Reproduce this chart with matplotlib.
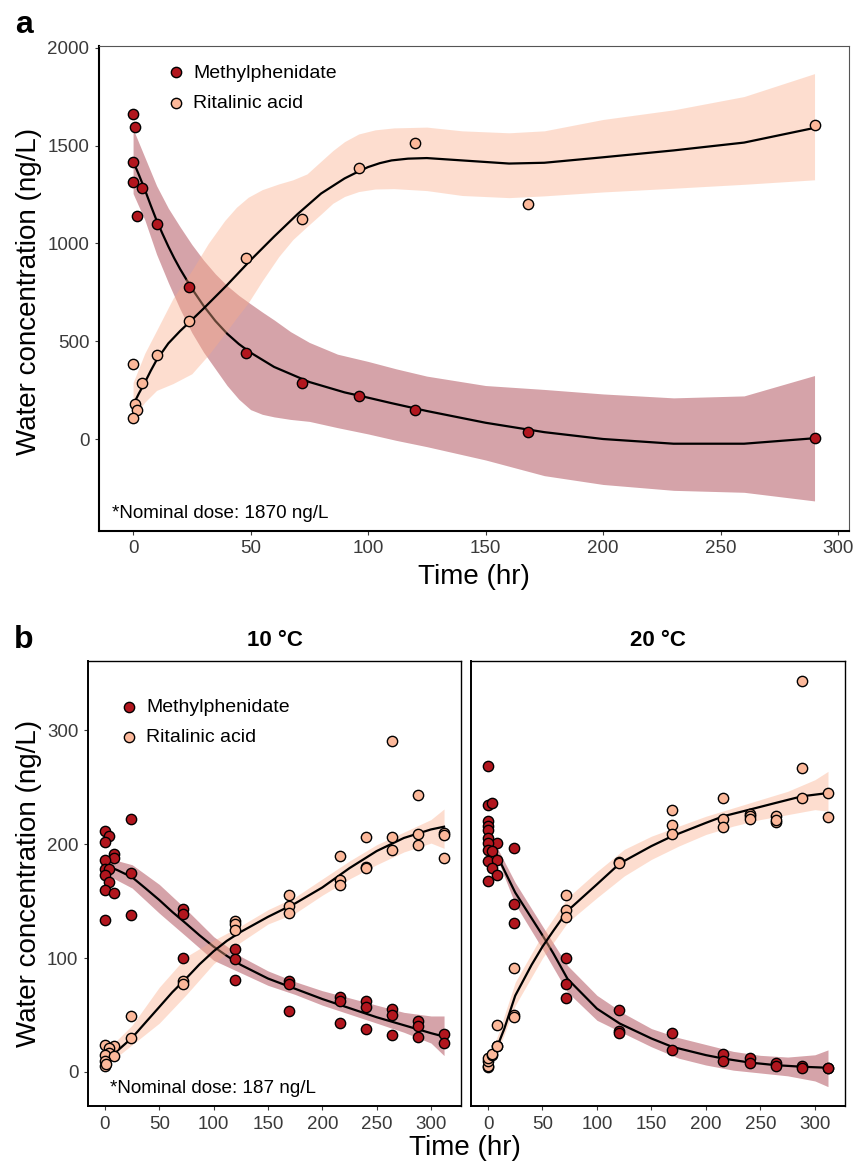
import matplotlib
matplotlib.use("Agg")
import matplotlib.pyplot as plt

plt.rcParams['font.family'] = ['Liberation Sans', 'DejaVu Sans']

# colours
mph_col = '#B2161E'
ra_col = '#FCB89A'
mph_band = '#981929'
ra_band = '#FAAC89'
labels = ['Methylphenidate', 'Ritalinic acid']

# ---- panel a : measured points ----
a_mph_t = [0.1, 0.85, 0, 0, 4, 1.6, 10, 24, 48, 72, 96, 120, 168, 290]
a_mph_v = [1660, 1594, 1415, 1316, 1282, 1139, 1100, 777, 440, 289, 221, 150, 37, 8]
a_ra_t = [0, 10, 4, 0.85, 1.6, 0, 24, 48, 72, 96, 120, 168, 290]
a_ra_v = [386, 430, 289, 182, 151, 109, 604, 927, 1124, 1384, 1514, 1203, 1606]

# panel a : smooth fits and confidence bands
a_mph_fit_t = [0, 2.5, 5, 7.5, 10, 12.5, 15, 17.5, 20, 25, 30, 35, 40, 45, 50, 60, 75, 90,
               100, 110, 125, 150, 175, 200, 230, 260, 290]
a_mph_fit = [1420, 1350, 1275, 1195, 1118, 1050, 985, 925, 870, 770, 682, 605, 540, 487, 443,
             370, 293, 240, 213, 185, 145, 85, 37, 2, -22, -22, 6]
a_mph_band_t = [0, 5, 10, 15, 20, 25, 30, 35, 40, 45, 50, 55, 60, 67, 75, 87, 100, 112, 125,
                150, 175, 200, 230, 260, 290]
a_mph_hi = [1585, 1440, 1295, 1180, 1085, 995, 915, 845, 785, 735, 692, 650, 610, 550, 495,
            435, 398, 360, 323, 275, 255, 232, 212, 222, 326]
a_mph_lo = [1255, 1120, 945, 800, 665, 545, 445, 360, 275, 205, 152, 128, 115, 102, 92, 60,
            28, -5, -37, -105, -185, -230, -260, -270, -314]

a_ra_fit_t = [0, 2.5, 5, 7.5, 10, 15, 20, 25, 30, 35, 40, 50, 60, 70, 80, 90, 95, 100, 105,
              110, 117, 125, 140, 160, 175, 200, 230, 260, 290]
a_ra_fit = [175, 235, 290, 350, 405, 490, 553, 610, 668, 728, 788, 915, 1035, 1150, 1255,
            1332, 1362, 1390, 1410, 1424, 1433, 1436, 1424, 1408, 1412, 1440, 1475, 1515, 1590]
a_ra_band_t = [0, 5, 10, 17, 25, 32, 39, 44, 49, 55, 62, 68, 74, 80, 85, 90, 96, 103, 111,
               125, 140, 160, 175, 200, 230, 260, 290]
a_ra_hi = [290, 440, 556, 720, 862, 1000, 1117, 1185, 1236, 1275, 1304, 1325, 1355, 1420,
           1474, 1520, 1559, 1580, 1590, 1594, 1575, 1565, 1575, 1633, 1682, 1750, 1867]
a_ra_lo = [110, 190, 250, 285, 335, 430, 539, 620, 697, 810, 933, 1020, 1086, 1150, 1205,
           1240, 1265, 1278, 1280, 1270, 1245, 1234, 1243, 1263, 1282, 1302, 1325]

# ---- panel b : 10 C ----
b10_mph_t = [0, 4, 0, 8, 8, 0, 0, 4, 0, 4, 0, 8, 0, 24, 24, 24, 72, 72, 72, 120, 120, 120,
             169, 169, 169, 216, 216, 216, 240, 240, 240, 264, 264, 264, 288, 288, 288, 312, 312]
b10_mph_v = [212, 207, 202, 191, 188, 186, 178, 178, 173, 167, 160, 157, 133, 222, 175, 138,
             143.5, 139, 100, 108, 99, 81, 80, 77, 53.5, 66, 62, 43, 62.5, 57, 38, 55, 50, 32.5,
             45, 40, 31, 33, 25.5]
b10_ra_t = [0, 8, 4, 4, 0, 8, 0, 0, 1, 24, 24, 72, 72, 120, 120, 120, 169, 169, 169,
            216, 216, 216, 240, 240, 240, 264, 264, 264, 288, 288, 288, 312, 312, 312]
b10_ra_v = [23.7, 22.3, 21, 16.4, 15, 13.5, 9.5, 5, 7, 49.5, 29.5, 80, 77, 132.5, 129.5, 125,
            155, 146, 139.5, 190, 169, 164.5, 206, 180, 179, 291, 206, 194.5, 243.5, 209, 199,
            210, 208, 188]

b10_fit_t = [0, 12, 25, 37, 50, 62, 75, 87, 100, 112, 125, 150, 175, 200, 225, 250, 275, 300, 312]
b10_mph_fit = [182, 177, 171, 161.5, 151, 140.5, 130, 120, 110, 102, 94, 82, 73, 64, 56, 48, 41, 34, 31]
b10_ra_fit = [9.5, 19, 30, 43, 57, 70, 82.4, 94.5, 106, 115, 123, 136.2, 148, 162, 179, 194, 205.5, 213, 215.4]
b10_band_t = [0, 25, 50, 75, 100, 125, 150, 175, 200, 225, 250, 275, 300, 312]
b10_mph_hi = [188.5, 182, 164.7, 142.5, 118.8, 101.4, 88.7, 79.2, 71.3, 65, 58.6, 52.3, 49.1, 49.1]
b10_mph_lo = [174, 161.5, 139.4, 118.8, 98, 87, 76, 68, 58.6, 50.7, 42.8, 34.8, 25.3, 14.3]
b10_ra_hi = [17.4, 41, 74.4, 101.4, 115.6, 128.3, 142.5, 153.6, 169.5, 185.3, 199.6, 210.6, 221.7, 231]
b10_ra_lo = [4.8, 23.8, 42.8, 68, 95, 114, 129.9, 139.4, 155.2, 169.5, 182, 193.2, 201, 196.4]

# ---- panel b : 20 C ----
b20_mph_t = [0, 0, 4, 0, 0, 0, 0, 8, 0, 0, 4, 0, 8, 4, 8, 0, 24, 24, 24, 72, 72, 72,
             120, 120, 120, 169, 169, 216, 216, 240, 240, 264, 264, 288, 288, 312, 312]
b20_mph_v = [269, 234.8, 236.3, 220.3, 215.9, 212.9, 205.6, 201.2, 201.2, 195.3, 193.8, 184.9,
             186.4, 179.1, 173.4, 167.4, 197, 147.3, 130.4, 99.8, 76.8, 64.8, 54, 35.7, 34,
             34.5, 19, 15.5, 9.7, 11.8, 7.4, 7.4, 5.4, 5.4, 3.6, 3.6, 3]
b20_ra_t = [0, 0, 0, 0, 4, 4, 8, 8, 8, 24, 24, 24, 72, 72, 72, 120, 120, 169, 169, 169,
            216, 216, 216, 240, 240, 240, 264, 264, 264, 288, 288, 288, 312, 312]
b20_ra_v = [4, 5, 9.5, 12, 15, 16, 22.5, 23, 41, 91, 49.7, 48.2, 155.5, 142.4, 135.7, 184.7,
            183.2, 230.4, 216.7, 209.2, 240.7, 222.3, 215.3, 227, 224.6, 222.3, 224.6, 219.4,
            221.5, 343.6, 266.9, 240.7, 245, 224]

b20_fit_t = [0, 4, 8, 15, 25, 40, 50, 60, 73, 100, 121, 150, 169, 200, 216, 240, 264, 288, 312]
b20_mph_fit = [205, 199, 191, 177, 157.5, 135, 120, 104, 81.7, 55.5, 42.4, 29.3, 22, 14.7, 11.7, 8.2, 5.9, 4.5, 3.6]
b20_ra_fit = [6, 13, 21, 38, 67, 94, 110, 124, 141.5, 164.8, 183.2, 198.4, 207.1, 218.8, 224.6, 230.4, 236.3, 242.1, 245]
b20_band_t = [0, 10, 25, 50, 73, 100, 125, 150, 175, 200, 225, 250, 275, 300, 312]
b20_mph_hi = [212, 194, 166.3, 128, 93.4, 67.2, 51.1, 38, 30, 24, 18, 14.5, 13, 15, 19.3]
b20_mph_lo = [198, 183.8, 147.3, 108, 70, 45.3, 33.6, 22, 12, 6, 1.5, -1, -3.5, -8, -13]
b20_ra_hi = [10, 35, 78.8, 121, 153, 176, 195.5, 207.1, 215.9, 224.6, 231.9, 239.2, 246.5, 256.7, 264]
b20_ra_lo = [2, 20.5, 58.4, 100, 131.3, 153, 172.1, 186.7, 198.4, 208.6, 215.9, 221.7, 226, 230.4, 229]


def draw_panel(ax, pts, fits, bands):
    # bands: (t, lo, hi) per compound, fits: (t, y) per compound
    (mt, mlo, mhi), (rt, rlo, rhi) = bands
    (mft, mf), (rft, rf) = fits
    ax.fill_between(mt, mlo, mhi, color=mph_band, alpha=0.4, lw=0, zorder=1)
    ax.plot(mft, mf, color='black', lw=1.6, zorder=2)
    ax.fill_between(rt, rlo, rhi, color=ra_band, alpha=0.4, lw=0, zorder=2)
    ax.plot(rft, rf, color='black', lw=1.6, zorder=2)
    (mx, my), (rx, ry) = pts
    ax.scatter(mx, my, s=55, c=mph_col, edgecolors='black', linewidths=1.0,
               zorder=3, label=labels[0])
    ax.scatter(rx, ry, s=55, c=ra_col, edgecolors='black', linewidths=1.0,
               zorder=3, label=labels[1])
    ax.set_xticks([0, 50, 100, 150, 200, 250, 300])
    ax.tick_params(labelsize=13.5, colors='#3a3a3a', length=3, width=0.8, pad=4)
    for sp in ax.spines.values():
        sp.set_color('black')
        sp.set_linewidth(1.0)


fig = plt.figure(figsize=(8.56, 11.65), dpi=100)
W, H = 856, 1165

# ---- panel a ----
ax_a = fig.add_axes([99 / W, 1 - 530.7 / H, 749.6 / W, 484.7 / H])
draw_panel(ax_a, ((a_mph_t, a_mph_v), (a_ra_t, a_ra_v)),
           ((a_mph_fit_t, a_mph_fit), (a_ra_fit_t, a_ra_fit)),
           ((a_mph_band_t, a_mph_lo, a_mph_hi), (a_ra_band_t, a_ra_lo, a_ra_hi)))
ax_a.set_xlim(-14.5, 304.5)
ax_a.set_ylim(-466, 2008)
ax_a.set_yticks([0, 500, 1000, 1500, 2000])
ax_a.spines['left'].set_linewidth(1.5)
ax_a.spines['bottom'].set_linewidth(1.5)
ax_a.spines['top'].set_color('#555555')
ax_a.spines['right'].set_color('#555555')
ax_a.spines['top'].set_linewidth(0.8)
ax_a.spines['right'].set_linewidth(0.8)
ax_a.legend(loc='upper left', bbox_to_anchor=(0.09, 0.963), frameon=False, fontsize=14,
            handlelength=1.0, handletextpad=0.38, labelspacing=0.66, borderpad=0,
            borderaxespad=0, scatterpoints=1)
ax_a.text(0.017, 0.036, '*Nominal dose: 1870 ng/L', transform=ax_a.transAxes,
          fontsize=13.6, va='center', ha='left', color='black')
fig.text(473.8 / W, 1 - 577 / H, 'Time (hr)', fontsize=20, ha='center', va='center')
fig.text(29 / W, 1 - 291 / H, 'Water concentration (ng/L)', fontsize=20,
         rotation=90, ha='center', va='center')
fig.text(24 / W, 1 - 25 / H, 'a', fontsize=23, fontweight='bold', ha='center', va='center')

# ---- panel b ----
ax_b1 = fig.add_axes([88 / W, 1 - 1106 / H, 373 / W, 445 / H])
ax_b2 = fig.add_axes([471 / W, 1 - 1106 / H, 374 / W, 445 / H])
draw_panel(ax_b1, ((b10_mph_t, b10_mph_v), (b10_ra_t, b10_ra_v)),
           ((b10_fit_t, b10_mph_fit), (b10_fit_t, b10_ra_fit)),
           ((b10_band_t, b10_mph_lo, b10_mph_hi), (b10_band_t, b10_ra_lo, b10_ra_hi)))
draw_panel(ax_b2, ((b20_mph_t, b20_mph_v), (b20_ra_t, b20_ra_v)),
           ((b20_fit_t, b20_mph_fit), (b20_fit_t, b20_ra_fit)),
           ((b20_band_t, b20_mph_lo, b20_mph_hi), (b20_band_t, b20_ra_lo, b20_ra_hi)))
for ax in (ax_b1, ax_b2):
    ax.set_xlim(-15.6, 327.6)
    ax.set_ylim(-30, 361)
    ax.set_yticks([0, 100, 200, 300])
    ax.spines['left'].set_linewidth(1.4)
    ax.spines['bottom'].set_linewidth(1.4)
ax_b2.tick_params(axis='y', left=False, labelleft=False)
ax_b1.text(0.5, 1 + 20 / 445, '10 °C', transform=ax_b1.transAxes, fontsize=16,
           fontweight='bold', ha='center', va='center')
ax_b2.text(0.5, 1 + 20 / 445, '20 °C', transform=ax_b2.transAxes, fontsize=16,
           fontweight='bold', ha='center', va='center')
ax_b1.legend(loc='upper left', bbox_to_anchor=(0.084, 0.915), frameon=False, fontsize=14,
             handlelength=1.0, handletextpad=0.38, labelspacing=0.6, borderpad=0,
             borderaxespad=0, scatterpoints=1)
ax_b1.text(0.059, 0.04, '*Nominal dose: 187 ng/L', transform=ax_b1.transAxes,
           fontsize=13.6, va='center', ha='left', color='black')
fig.text(465 / W, 1 - 1148 / H, 'Time (hr)', fontsize=20, ha='center', va='center')
fig.text(29 / W, 1 - 883 / H, 'Water concentration (ng/L)', fontsize=20,
         rotation=90, ha='center', va='center')
fig.text(24 / W, 1 - 640 / H, 'b', fontsize=23, fontweight='bold', ha='center', va='center')

fig.savefig('out.png', dpi=100)
